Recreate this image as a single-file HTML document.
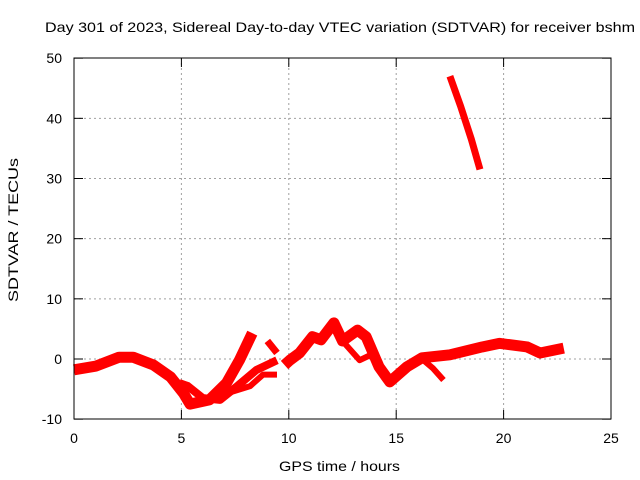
<!DOCTYPE html>
<html><head><meta charset="utf-8"><style>
body{margin:0;background:#fff;}
svg{display:block;font-family:"Liberation Sans",sans-serif;}
</style></head><body>
<svg id="chart" width="640" height="480">
<text x="45" y="32" font-size="14" textLength="590" lengthAdjust="spacingAndGlyphs">Day 301 of 2023, Sidereal Day-to-day VTEC variation (SDTVAR) for receiver bshm</text>
<text x="279" y="471" font-size="14" textLength="121" lengthAdjust="spacingAndGlyphs">GPS time / hours</text>
<text x="18" y="302" font-size="14" textLength="144" lengthAdjust="spacingAndGlyphs" transform="rotate(-90 18 302)">SDTVAR / TECUs</text>
<g id="grid"></g><g id="ticks"></g><g id="series"></g>
<rect x="74" y="58" width="537" height="361" fill="none" stroke="#000" stroke-width="1"/>
</svg>
<script>
const xTicks=[0,5,10,15,20,25];
const yTicks=[-10,0,10,20,30,40,50];
const seg1X=[0,1,2.1,2.75,3.7,4.5,5.1,5.4,6.3,7.1,7.7,8.3];
const seg1Y=[-1.8,-1.2,0.3,0.3,-1,-3,-5.7,-7.5,-6.8,-4,-0.2,4.3];
const seg2X=[4.9,5.3,6,6.8,7.6,8.5,9.45];
const seg2Y=[-4,-4.5,-6.5,-6.8,-4.5,-1.8,-0.2];
const seg3X=[7.3,8.2,8.8,9.45];
const seg3Y=[-5.5,-4.5,-2.6,-2.6];
const seg4X=[9,9.45];
const seg4Y=[3,1];
const seg5X=[9.8,10.05,10.5,11.1,11.5,12.1,12.5,13.2,13.6,14.2,14.7,15.5,16.2,17.5,19,19.8,21.1,21.7,22.8];
const seg5Y=[-1,-0.2,1,3.7,3.2,6,3,4.8,3.7,-1.3,-3.8,-1.3,0.2,0.7,2,2.6,2,1,1.8];
const seg6X=[12.5,13.3,14];
const seg6Y=[3,-0.2,1];
const seg7X=[16.2,16.7,17.2];
const seg7Y=[0,-1.5,-3.5];
const seg8X=[17.5,18,18.5,18.9];
const seg8Y=[47,42,36.5,31.5];
const NS='http://www.w3.org/2000/svg';
const sx=h=>74+h*537/25, sy=v=>359-v*361/60;
const grid=document.getElementById('grid'),ticks=document.getElementById('ticks'),ser=document.getElementById('series');
function mk(t,a,p){const e=document.createElementNS(NS,t);for(const k in a)e.setAttribute(k,a[k]);p.appendChild(e);return e;}
xTicks.forEach(t=>{const x=sx(t);
 if(t>0&&t<25){const g=mk('line',{x1:x,x2:x,y1:58,y2:419,stroke:'#a0a0a0','stroke-dasharray':'2,3'},grid);
 
 }
 mk('line',{x1:x,x2:x,y1:419,y2:410,stroke:'#000'},ticks);mk('line',{x1:x,x2:x,y1:58,y2:67,stroke:'#000'},ticks);
 const l=mk('text',{x:x,y:443,'font-size':14,'text-anchor':'middle'},ticks);l.textContent=t;
 
 });
yTicks.forEach(t=>{const y=sy(t);
 if(t>-10&&t<50){const g=mk('line',{x1:74,x2:611,y1:y,y2:y,stroke:'#a0a0a0','stroke-dasharray':'2,3'},grid);
 
 }
 mk('line',{x1:74,x2:83,y1:y,y2:y,stroke:'#000'},ticks);mk('line',{x1:611,x2:602,y1:y,y2:y,stroke:'#000'},ticks);
 const l=mk('text',{x:62,y:y+5,'font-size':14,'text-anchor':'end'},ticks);l.textContent=t;
 
 });
const segs=[[seg1X,seg1Y,11],[seg2X,seg2Y,8],[seg3X,seg3Y,6],[seg4X,seg4Y,7],[seg5X,seg5Y,11],[seg6X,seg6Y,6],[seg7X,seg7Y,6],[seg8X,seg8Y,7]];
segs.forEach((s,i)=>{const pts=s[0].map((h,j)=>sx(h)+','+sy(s[1][j])).join(' ');
 const p=mk('polyline',{points:pts,fill:'none',stroke:'#ff0000','stroke-width':s[2],'stroke-linejoin':'round','stroke-linecap':'butt'},ser);
 
 });
</script>
</body></html>
